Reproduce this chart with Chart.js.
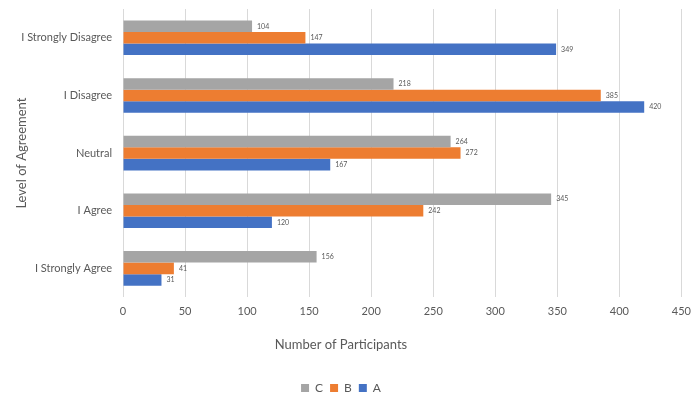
<!DOCTYPE html>
<html lang="en">
<head>
    <meta charset="UTF-8">
    <title>Level of Agreement</title>
    <script src="https://cdn.jsdelivr.net/npm/chart.js"></script>
    <style>
        html, body { margin: 0; padding: 0; background: #fff; }
        #wrap { width: 699px; height: 397px; }
    </style>
</head>
<body>
    <div id="wrap"><canvas id="agreeChart"></canvas></div>

    <script>
        const categories = ['I Strongly Disagree', 'I Disagree', 'Neutral', 'I Agree', 'I Strongly Agree'];
        const seriesC = [104, 218, 264, 345, 156];
        const seriesB = [147, 385, 272, 242, 41];
        const seriesA = [349, 420, 167, 120, 31];

        const textColor = '#595959';
        Chart.defaults.font.family = 'Lato, "Open Sans", sans-serif';
        Chart.defaults.color = textColor;

        // value labels at the end of each bar
        const barValues = {
            id: 'barValues',
            afterDatasetsDraw(chart) {
                const ctx = chart.ctx;
                ctx.save();
                ctx.font = '7px Lato, "Open Sans", sans-serif';
                ctx.fillStyle = textColor;
                ctx.textBaseline = 'middle';
                ctx.textAlign = 'left';
                chart.data.datasets.forEach((ds, i) => {
                    chart.getDatasetMeta(i).data.forEach((bar, j) => {
                        ctx.fillText(ds.data[j], bar.x + 5, bar.y);
                    });
                });
                ctx.restore();
            }
        };

        const ctx = document.getElementById('agreeChart').getContext('2d');
        new Chart(ctx, {
            type: 'bar',
            data: {
                labels: categories,
                datasets: [
                    { label: 'C', data: seriesC, backgroundColor: '#A5A5A5' },
                    { label: 'B', data: seriesB, backgroundColor: '#ED7D31' },
                    { label: 'A', data: seriesA, backgroundColor: '#4472C4' }
                ]
            },
            options: {
                indexAxis: 'y',
                responsive: true,
                maintainAspectRatio: false,
                animation: false,
                datasets: {
                    bar: {
                        categoryPercentage: 0.6,
                        barPercentage: 1.0,
                        borderWidth: 0
                    }
                },
                layout: { padding: { top: 9, right: 17, bottom: 2, left: 0 } },
                plugins: {
                    legend: {
                        position: 'bottom',
                        weight: 3000,
                        maxHeight: 20,
                        labels: { boxWidth: 8, boxHeight: 8, padding: 7, font: { size: 12 }, color: textColor }
                    },
                    title: {
                        display: true,
                        position: 'bottom',
                        text: 'Number of Participants',
                        font: { size: 13, weight: 'normal' },
                        color: textColor,
                        padding: { top: 11, bottom: 22 }
                    },
                    tooltip: { enabled: false }
                },
                scales: {
                    x: {
                        min: 0,
                        max: 450,
                        ticks: { stepSize: 50, padding: 8, font: { size: 11 }, color: textColor },
                        grid: { color: '#D9D9D9', drawTicks: false },
                        border: { display: false }
                    },
                    y: {
                        afterFit(scale) { scale.width = 123; },
                        ticks: { padding: 0, font: { size: 11 }, color: textColor },
                        // invisible tick marks keep the labels 11px off the plot
                        grid: { display: true, drawOnChartArea: false, drawTicks: true, tickLength: 11, tickColor: 'rgba(0,0,0,0)' },
                        border: { display: false },
                        title: {
                            display: true,
                            text: 'Level of Agreement',
                            font: { size: 13 },
                            color: textColor,
                            padding: { top: 14 }
                        }
                    }
                }
            },
            plugins: [barValues]
        });
    </script>
</body>
</html>
